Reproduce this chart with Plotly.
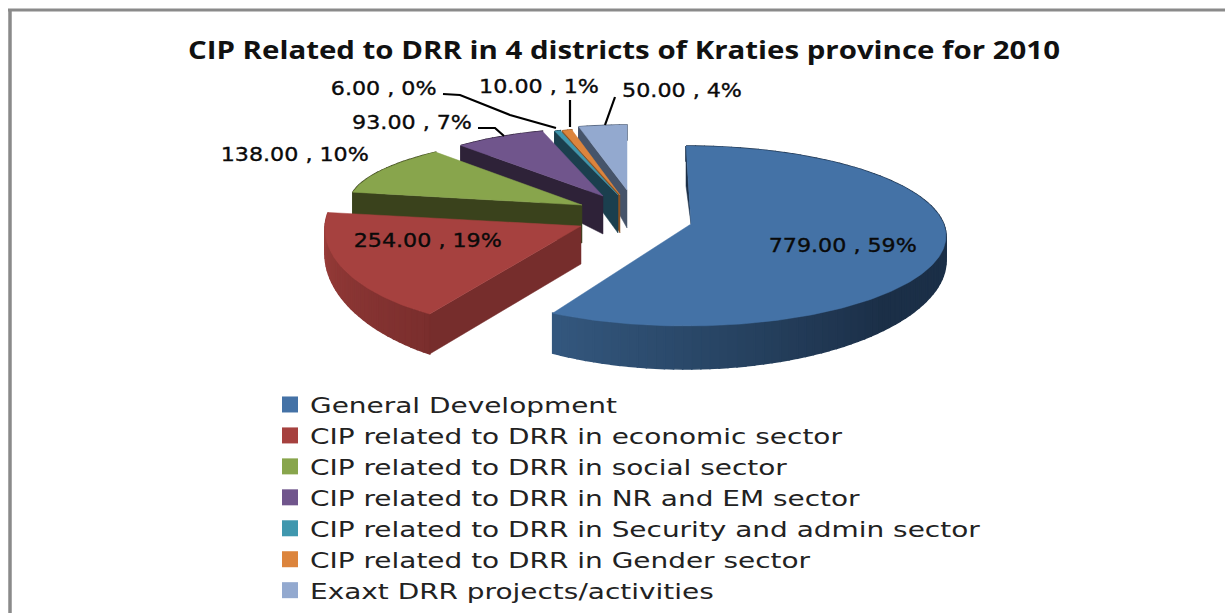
import math
import plotly.graph_objects as go

CATEGORIES = [
    "General Development",
    "CIP related to DRR in economic sector",
    "CIP related to DRR in social sector",
    "CIP related to DRR in NR and EM sector",
    "CIP related to DRR in Security and admin sector",
    "CIP related to DRR in Gender sector",
    "Exaxt DRR projects/activities",
]
VALUES = [779, 254, 138, 93, 6, 10, 50]
TITLE = "CIP Related to DRR in 4 districts of Kraties province for 2010"

FACE = ["#4472a6", "#a6413f", "#88a54c", "#70558c", "#3f97ae", "#dc843c", "#93a9cf"]
WALL_A = ["#1b2f47", "#7a2e2d", "#3a421c", "#2e2238", "#1b3f4e", "#8a5020", "#46546a"]
WALL_B = ["#34587f", "#9c3e3b", "#3a421c", "#2e2238", "#1b3f4e", "#8a5020", "#46546a"]
EDGE = ["#1b2f47", "#762d2c", "#3a421c", "#2e2238", "#1b3f4e", "#8a5020", "#46546a"]

# exploded-slice presentation (perspective look): apex, ellipse centre and radii per slice
APEX = [(691, 224), (581, 226), (582, 205), (603, 196), (618, 195), (620, 195), (627, 190)]
CENTRE = [(686, 236), (540, 229), (622, 204), (609, 193), (618, 195), (620, 195), (627, 190)]
RADII = [(260, 90), (215, 99), (273, 71), (217, 65), (206, 67), (206, 67), (206, 65)]
LABEL_POS = [(843, 245), (428, 240), (295, 154), (412, 122), (383, 88), (539, 86), (682, 90)]
LEADERS = [
    [(443, 94), (460, 95), (510, 115), (556, 128)],
    [(478, 128), (495, 128), (504, 136)],
    [(570, 100), (570, 127)],
    [(615, 97), (605, 125)],
]

total = sum(VALUES)
bounds = [0.0]
for v in VALUES:
    bounds.append(bounds[-1] + 360.0 * v / total)


def pt(i, deg):
    cx, cy = CENTRE[i]
    a, b = RADII[i]
    t = math.radians(deg)
    return cx + a * math.sin(t), cy - b * math.cos(t)


def depth(deg):
    t = math.radians(deg)
    return 29 - 14 * math.cos(t) - 4 * math.sin(t) ** 2


def mix(c1, c2, f):
    p = [int(c1[k:k + 2], 16) for k in (1, 3, 5)]
    q = [int(c2[k:k + 2], 16) for k in (1, 3, 5)]
    return "#%02x%02x%02x" % tuple(round(p[k] + (q[k] - p[k]) * f) for k in range(3))


def poly(xy, color, width=0.5):
    return go.Scatter(
        x=[p[0] for p in xy] + [xy[0][0]],
        y=[p[1] for p in xy] + [xy[0][1]],
        mode="lines",
        fill="toself",
        fillcolor=color,
        line=dict(width=width, color=color),
        hoverinfo="skip",
        showlegend=False,
    )


fig = go.Figure()

for i in [6, 5, 4, 3, 2, 1, 0]:
    s, e = bounds[i], bounds[i + 1]
    # outer rim wall, in shaded strips
    n = max(2, int((e - s) / 2))
    for k in range(n):
        d0 = s + (e - s) * k / n
        d1 = s + (e - s) * (k + 1) / n
        x0, y0 = pt(i, d0)
        x1, y1 = pt(i, d1)
        fig.add_trace(poly(
            [(x0, y0), (x1, y1), (x1, y1 + depth(d1)), (x0, y0 + depth(d0))],
            mix(WALL_A[i], WALL_B[i], (k + 0.5) / n) if i > 0 else
            mix(WALL_A[i], WALL_B[i], max(0, (d0 - 130) / (e - 130))),
            width=1.5,
        ))
    # cut-face wall along the slice's leading edge
    ox, oy = pt(i, s)
    ax, ay = APEX[i]
    if i == 0:
        wall = [(ax, ay), (ox, oy), (ox, oy + 40)]
    else:
        wall = [(ax, ay), (ox, oy), (ox, oy + depth(s)), (ax, ay + 38)]
    fig.add_trace(poly(wall, EDGE[i]))
    # top face
    steps = max(2, int(e - s))
    arc = [pt(i, s + (e - s) * k / steps) for k in range(steps + 1)]
    fig.add_trace(poly([APEX[i]] + arc, FACE[i]))

for leader in LEADERS:
    fig.add_trace(go.Scatter(
        x=[p[0] for p in leader], y=[p[1] for p in leader], mode="lines",
        line=dict(color="#000000", width=2.2), hoverinfo="skip", showlegend=False,
    ))

# legend entries
for name, color in zip(CATEGORIES, FACE):
    fig.add_trace(go.Scatter(
        x=[None], y=[None], mode="markers", name=name,
        marker=dict(symbol="square", size=16, color=color),
    ))

annotations = []
for v, (lx, ly) in zip(VALUES, LABEL_POS):
    annotations.append(dict(
        x=lx, y=ly, xref="x", yref="y", showarrow=False,
        text=f"{v:.2f} , {round(100 * v / total)}%",
        font=dict(family="DejaVu Sans", size=20, color="#0a0a0a"),
    ))

frame = "#8a8a8a"
shapes = [
    dict(type="line", xref="x", yref="y", x0=10, x1=10, y0=10, y1=613, line=dict(color=frame, width=3.5)),
    dict(type="line", xref="x", yref="y", x0=8, x1=1225, y0=10, y1=10, line=dict(color=frame, width=3)),
]

fig.update_layout(
    width=1225, height=613, margin=dict(l=0, r=0, t=0, b=0, autoexpand=False),
    paper_bgcolor="#ffffff", plot_bgcolor="#ffffff",
    title=dict(text=f"<b>{TITLE}</b>", x=624 / 1225, xanchor="center", y=1 - 50 / 613, yanchor="middle",
               font=dict(family="Open Sans", size=25, color="#111111")),
    xaxis=dict(range=[0, 1225], visible=False, fixedrange=True),
    yaxis=dict(range=[613, 0], visible=False, fixedrange=True),
    legend=dict(x=270 / 1225, y=1 - 384 / 613, xanchor="left", yanchor="top",
                bgcolor="rgba(0,0,0,0)", font=dict(family="DejaVu Sans", size=21.5, color="#222222"),
                entrywidth=800, entrywidthmode="pixels", tracegroupgap=0),
    annotations=annotations, shapes=shapes,
)

POST = """
document.body.style.margin='0';document.body.style.overflow='hidden';
(function(){
  var gd=document.getElementById('{plot_id}');
  function stretch(sel,sx,origin,extra){
    gd.querySelectorAll(sel).forEach(function(t){
      t.style.transformBox='fill-box';
      t.style.transformOrigin=origin;
      t.style.transform='scaleX('+sx+')';
      if(extra){t.style.stroke=extra;t.style.strokeWidth='0.35px';}
    });
  }
  function apply(){
    stretch('.legendtext',1.30,'left center');
    stretch('.gtitle',1.177,'center center');
    stretch('.annotation-text',1.11,'center center','#0a0a0a');
    gd.querySelectorAll('.legend .scrollbox').forEach(function(b){b.removeAttribute('clip-path');});
  }
  apply();
  if(gd.on){gd.on('plotly_afterplot',apply);}
  setTimeout(apply,50);
})();
"""
fig.write_html("out.html", config={"displayModeBar": False}, post_script=POST)
